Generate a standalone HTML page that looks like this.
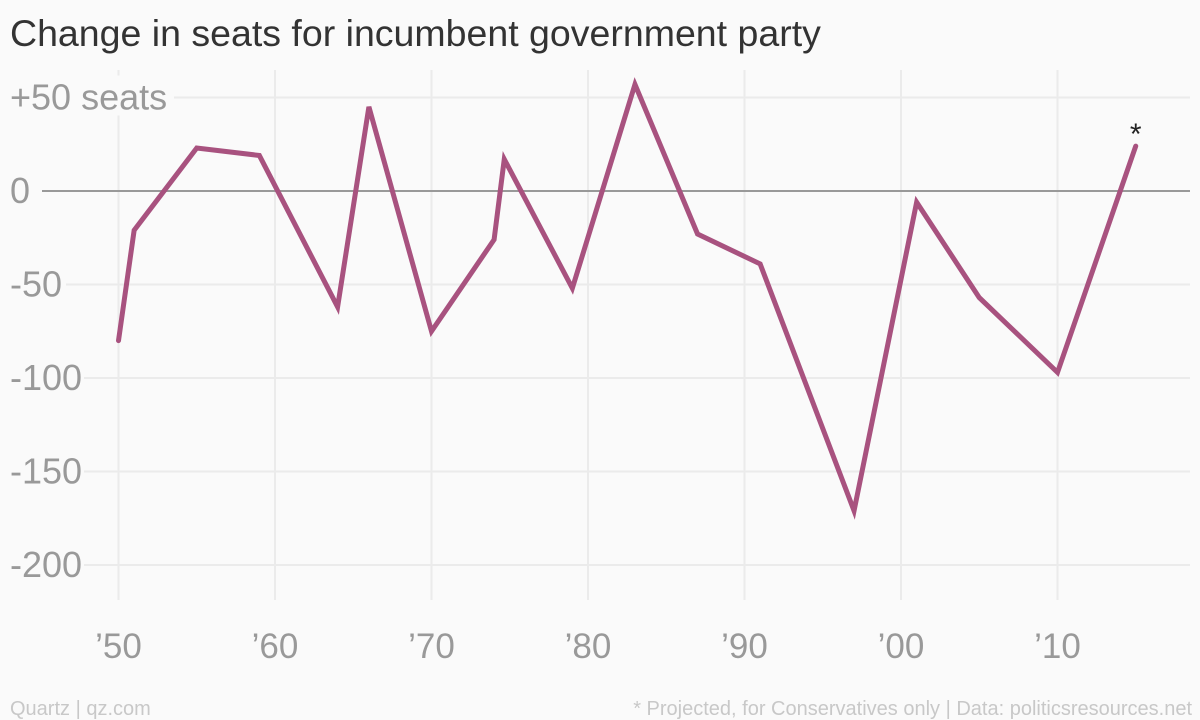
<!DOCTYPE html>
<html><head><meta charset="utf-8"><style>
body{margin:0;background:#fafafa;font-family:"Liberation Sans",sans-serif}
svg{display:block}
</style></head><body>
<svg id="c" width="1200" height="720" xmlns="http://www.w3.org/2000/svg">
<rect width="1200" height="720" fill="#fafafa"/>
<text x="10" y="46" font-size="37.5" fill="#333">Change in seats for incumbent government party</text>
<g id="grid"></g><g id="lbl"></g>
<text x="10" y="715" font-size="20" fill="#c8c8c8">Quartz | qz.com</text>
<text x="1192" y="715" font-size="20" fill="#c8c8c8" text-anchor="end">* Projected, for Conservatives only | Data: politicsresources.net</text>
</svg>
<script>
const years=[1950,1951,1955,1959,1964,1966,1970,1974,1974.65,1979,1983,1987,1991,1997,2001,2005,2010,2015];
const seats=[-80,-21,23,19,-62,45,-75,-26,17,-52,57,-23,-39,-171,-6,-57,-97,24];
const xTicks=[1950,1960,1970,1980,1990,2000,2010];
const xTickLabels=["’50","’60","’70","’80","’90","’00","’10"];
const yTicks=[50,0,-50,-100,-150,-200];
const yTickLabels=["+50 seats","0","-50","-100","-150","-200"];
const X=y=>118.5+(y-1950)*15.65, Y=v=>191-v*1.87;
const NS="http://www.w3.org/2000/svg",svg=document.getElementById('c');
const grid=document.getElementById('grid');
function mk(t,a,p){const e=document.createElementNS(NS,t);for(const k in a)e.setAttribute(k,a[k]);(p||svg).appendChild(e);return e;}
xTicks.forEach((t,i)=>{
 const l=mk('line',{x1:X(t),x2:X(t),y1:70,y2:600,stroke:'#ebebeb','stroke-width':2},grid);
 
 
 const tx=mk('text',{x:X(t),y:658,'font-size':35,fill:'#999','text-anchor':'middle'});
 tx.textContent=xTickLabels[i];
 
 
});
yTicks.forEach((t,i)=>{
 const w=yTickLabels[i].length*18+12;
 const bg=mk('rect',{x:0,y:Y(t)-22,width:w,height:40,fill:'#fafafa'});
 
 
 const l=mk('line',{x1:t===0?42:w,x2:1190,y1:Y(t),y2:Y(t),stroke:t===0?'#999':'#ebebeb','stroke-width':2});
 
 
 const tx=mk('text',{x:10,y:Y(t)+12,'font-size':36,fill:'#999'});
 tx.textContent=yTickLabels[i];
 
 
});
const p=mk('polyline',{points:years.map((y,i)=>X(y)+','+Y(seats[i])).join(' '),fill:'none',stroke:'#a8527f','stroke-width':5,'stroke-linejoin':'miter','stroke-linecap':'round'});


const n=years.length-1;
const a=mk('text',{x:X(years[n]),y:Y(seats[n])-2,'font-size':30,fill:'#222','text-anchor':'middle'});
a.textContent='*';


</script>
</body></html>
